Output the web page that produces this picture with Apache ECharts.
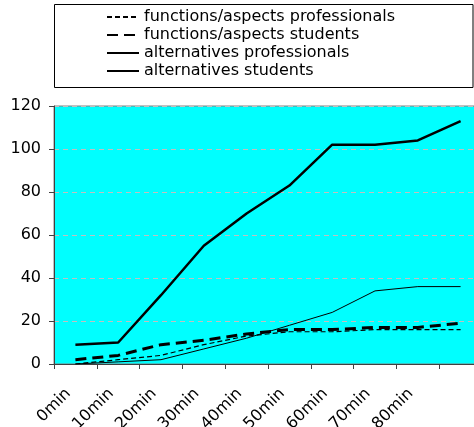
<!DOCTYPE html>
<html>
<head>
<meta charset="utf-8">
<script src="https://cdn.jsdelivr.net/npm/echarts@6/dist/echarts.min.js"></script>
<style>
  html, body { margin: 0; padding: 0; background: #ffffff; }
  #chart { width: 474px; height: 427px; }
</style>
</head>
<body>
<div id="chart"></div>
<script>
// Time buckets along the x axis (last bucket is unlabelled)
const categories = ['0min', '10min', '20min', '30min', '40min', '50min', '60min', '70min', '80min', ''];

// Cumulative counts per series
const functionsProfessionals = [0, 2, 4, 9, 13, 15, 15, 16, 16, 16];
const functionsStudents = [2, 4, 9, 11, 14, 16, 16, 17, 17, 19];
const alternativesProfessionals = [0, 1, 2, 7, 12, 18, 24, 34, 36, 36];
const alternativesStudents = [9, 10, 32, 55, 70, 83, 102, 102, 104, 113];

const seriesNames = [
  'functions/aspects professionals',
  'functions/aspects students',
  'alternatives professionals',
  'alternatives students'
];

const yTicks = { min: 0, max: 120, interval: 20 };

const FONT = 'DejaVu Sans';

const chart = echarts.init(document.getElementById('chart'), null, { renderer: 'canvas' });

function lineSeries(name, data, width, dash) {
  return {
    name: name,
    type: 'line',
    data: data,
    symbol: 'none',
    showSymbol: false,
    animation: false,
    lineStyle: { color: '#000000', width: width, type: dash || 'solid' },
    itemStyle: { color: '#000000' }
  };
}

chart.setOption({
  backgroundColor: '#ffffff',
  animation: false,
  textStyle: { fontFamily: FONT, color: '#000000' },
  graphic: [{
    type: 'rect',
    z: -1,
    shape: { x: 54.5, y: 4.5, width: 418.5, height: 83 },
    style: { fill: '#ffffff', stroke: '#000000', lineWidth: 1 }
  }],
  legend: {
    orient: 'vertical',
    left: 106,
    top: 8,
    padding: 0,
    itemWidth: 32,
    itemHeight: 18,
    itemGap: 0,
    // line-only legend keys
    itemStyle: { opacity: 0 },
    textStyle: { fontFamily: FONT, fontSize: 16, color: '#000000', lineHeight: 18 },
    data: seriesNames
  },
  grid: {
    left: 54,
    top: 106,
    width: 428,
    height: 258,
    outerBoundsMode: 'none',
    containLabel: false,
    show: true,
    backgroundColor: '#00ffff',
    borderColor: '#808080',
    borderWidth: 1
  },
  xAxis: {
    type: 'category',
    data: categories,
    boundaryGap: true,
    axisLine: { lineStyle: { color: '#404040', width: 1 } },
    axisTick: { show: true, interval: 0, length: 5, inside: false, lineStyle: { color: '#404040' } },
    axisLabel: {
      interval: 0,
      rotate: 45,
      margin: 20,
      padding: [0, 10, 0, 0],
      fontFamily: FONT,
      fontSize: 16,
      color: '#000000'
    },
    splitLine: { show: false }
  },
  yAxis: {
    type: 'value',
    min: yTicks.min,
    max: yTicks.max,
    interval: yTicks.interval,
    axisLine: { show: true, lineStyle: { color: '#404040', width: 1 } },
    axisTick: { show: true, length: 5, lineStyle: { color: '#404040' } },
    axisLabel: { margin: 13, fontFamily: FONT, fontSize: 16, color: '#000000' },
    splitLine: { show: true, lineStyle: { color: '#c0c0c0', type: [5, 4], width: 1 } }
  },
  series: [
    lineSeries(seriesNames[0], functionsProfessionals, 1.2, [5, 3]),
    lineSeries(seriesNames[1], functionsStudents, 3, [11, 6]),
    lineSeries(seriesNames[2], alternativesProfessionals, 1),
    lineSeries(seriesNames[3], alternativesStudents, 2.5)
  ]
});
</script>
</body>
</html>
